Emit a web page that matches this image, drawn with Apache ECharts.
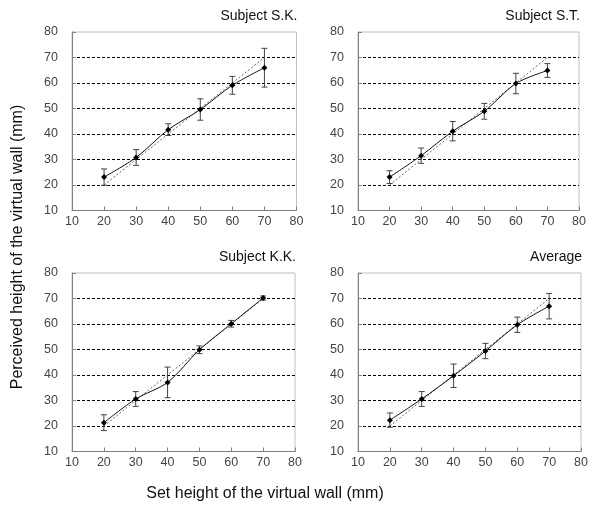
<!DOCTYPE html>
<html>
<head>
<meta charset="utf-8">
<script src="https://cdn.jsdelivr.net/npm/echarts@6/dist/echarts.min.js"></script>
<style>html,body{margin:0;padding:0;background:#fff}#c{width:595px;height:515px}</style>
</head>
<body>
<div id="c"></div>
<script>
const xValues = [20, 30, 40, 50, 60, 70];
const skMean = [23.1, 30.8, 41.7, 49.6, 59.1, 66.0];
const skErr = [3.2, 3.1, 2.3, 4.2, 3.5, 7.6];
const stMean = [23.1, 31.5, 41.1, 48.9, 59.8, 64.9];
const stErr = [2.5, 3.0, 3.8, 3.1, 4.0, 2.7];
const kkMean = [21.3, 30.6, 37.1, 49.9, 60.1, 70.2];
const kkErr = [3.1, 2.9, 6.0, 1.5, 1.3, 0.8];
const avgMean = [22.3, 30.6, 39.7, 49.4, 59.7, 67.0];
const avgErr = [2.8, 2.9, 4.6, 3.0, 3.0, 5.0];
const idealLine = [20, 70];
const panelTitles = ['Subject S.K.', 'Subject S.T.', 'Subject K.K.', 'Average'];
const axisMin = 10, axisMax = 80, axisStep = 10;
const xTitle = 'Set height of the virtual wall (mm)';
const yTitle = 'Perceived height of the virtual wall (mm)';

const means = [skMean, stMean, kkMean, avgMean];
const errs = [skErr, stErr, kkErr, avgErr];
const grids = [
  {left: 72, top: 32, width: 224.5, height: 178.5},
  {left: 358, top: 32, width: 221, height: 178.5},
  {left: 72, top: 273, width: 223, height: 178.5},
  {left: 358, top: 273, width: 223, height: 178.5}
];
const FONT = 'Liberation Sans, Arial, sans-serif';
const gridLineColors = ['#000'];

const option = {
  animation: false,
  backgroundColor: '#fff',
  title: panelTitles.map((t, i) => ({
    text: t,
    right: 595 - (grids[i].left + grids[i].width) - 1,
    top: grids[i].top - 23,
    padding: 0,
    textStyle: {fontFamily: FONT, fontSize: 14, fontWeight: 'normal', color: '#111'}
  })),
  grid: grids.map(g => Object.assign({show: true, borderColor: '#c0c0c0', borderWidth: 1, backgroundColor: 'transparent'}, g)),
  xAxis: grids.map((g, i) => ({
    type: 'value', gridIndex: i, min: axisMin, max: axisMax, interval: axisStep,
    axisLine: {show: true, lineStyle: {color: '#808080', width: 1}},
    axisTick: {show: true, inside: true, length: 4, lineStyle: {color: '#808080'}},
    axisLabel: {fontFamily: FONT, fontSize: 12.5, color: '#444', margin: 5},
    splitLine: {show: false}
  })),
  yAxis: grids.map((g, i) => ({
    type: 'value', gridIndex: i, min: axisMin, max: axisMax, interval: axisStep,
    axisLine: {show: true, lineStyle: {color: '#808080', width: 1}},
    axisTick: {show: true, inside: true, length: 4, lineStyle: {color: '#808080'}},
    axisLabel: {fontFamily: FONT, fontSize: 12.5, color: '#444', margin: 14},
    splitLine: {show: true, showMinLine: false, showMaxLine: false,
      lineStyle: {color: gridLineColors, type: [3, 2], width: 1}}
  })),
  graphic: [
    {type: 'text', x: 18, y: 247, rotation: Math.PI / 2,
      style: {text: yTitle, font: '16px ' + FONT, fill: '#111', textAlign: 'center', textVerticalAlign: 'middle'}},
    {type: 'text', x: 265, y: 494,
      style: {text: xTitle, font: '16px ' + FONT, fill: '#111', textAlign: 'center', textVerticalAlign: 'middle'}}
  ],
  series: []
};

means.forEach((m, i) => {
  option.series.push({
    type: 'line', xAxisIndex: i, yAxisIndex: i, z: 1,
    data: idealLine.map(v => [v, v]),
    symbol: 'none',
    lineStyle: {color: '#666', width: 1, type: [2, 2]}
  });
  option.series.push({
    type: 'custom', xAxisIndex: i, yAxisIndex: i, z: 2,
    data: xValues.map((x, k) => [x, m[k], errs[i][k]]),
    encode: {x: 0, y: 1},
    renderItem: function (params, api) {
      const x = api.value(0), y = api.value(1), e = api.value(2);
      const t = api.coord([x, y + e]);
      const b = api.coord([x, y - e]);
      const hw = 3;
      const st = {stroke: '#444', lineWidth: 1};
      return {type: 'group', children: [
        {type: 'line', shape: {x1: t[0], y1: t[1], x2: b[0], y2: b[1]}, style: st},
        {type: 'line', shape: {x1: t[0] - hw, y1: t[1], x2: t[0] + hw, y2: t[1]}, style: st},
        {type: 'line', shape: {x1: b[0] - hw, y1: b[1], x2: b[0] + hw, y2: b[1]}, style: st}
      ]};
    }
  });
  option.series.push({
    type: 'line', xAxisIndex: i, yAxisIndex: i, z: 3,
    data: xValues.map((x, k) => [x, m[k]]),
    smooth: 0.3,
    symbol: 'diamond', symbolSize: 6,
    itemStyle: {color: '#000'},
    lineStyle: {color: '#111', width: 1}
  });
});

const chart = echarts.init(document.getElementById('c'), null, {renderer: 'canvas'});
chart.setOption(option);
</script>
</body>
</html>
